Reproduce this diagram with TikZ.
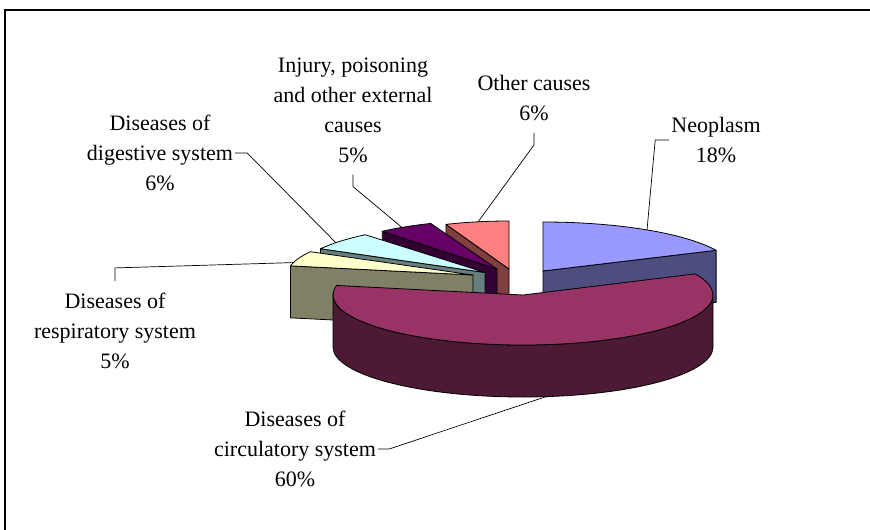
\documentclass[tikz,border=0pt]{standalone}
\usepackage{fontspec}
\setmainfont{Liberation Serif}
\usepackage{tikz}
\usetikzlibrary{calc}

\definecolor{neoTop}{HTML}{9999FF}
\definecolor{neoSide}{HTML}{4D4D80}
\definecolor{cirTop}{HTML}{993366}
\definecolor{cirSide}{HTML}{4D1A33}
\definecolor{resTop}{HTML}{FFFFCC}
\definecolor{resSide}{HTML}{808066}
\definecolor{digTop}{HTML}{CCFFFF}
\definecolor{digSide}{HTML}{668080}
\definecolor{injTop}{HTML}{660066}
\definecolor{injSide}{HTML}{330033}
\definecolor{othTop}{HTML}{FF8080}
\definecolor{othSide}{HTML}{804040}

\begin{document}
\begin{tikzpicture}[x=1pt,y=-1pt,
		face/.style={draw=black,line width=0.8pt,line join=round},
		lbl/.style={align=center,font=\fontsize{22}{30}\selectfont,inner xsep=2pt,inner ysep=12pt},
		leader/.style={draw=black,line width=0.7pt}
		]
			\useasboundingbox (0,0) rectangle (870,530);
			\draw[line width=1.2pt] (5,530) -- (5,10) -- (870,10);

			% slices, back to front
			\coordinate (othA) at (509,269);
			\filldraw[face,fill=othSide] (othA) -- ++({171*sin(338.4)},{-48*cos(338.4)}) -- ++(0,52) -- ($(othA)+(0,52)$) -- cycle;
			\filldraw[face,fill=othTop] (othA) -- ++({171*sin(338.4)},{-48*cos(338.4)}) arc[start angle=248.4,end angle=270,x radius=171,y radius=48] -- cycle;

			\coordinate (injA) at (497,269);
			\filldraw[face,fill=injSide] (injA) -- ++({180*sin(320.4)},{-49*cos(320.4)}) -- ++(0,52) -- ($(injA)+(0,52)$) -- cycle;
			\filldraw[face,fill=injTop] (injA) -- ++({180*sin(320.4)},{-49*cos(320.4)}) arc[start angle=230.4,end angle=248.4,x radius=180,y radius=49] -- cycle;

			\coordinate (digA) at (485,272.5);
			\filldraw[face,fill=digSide] (digA) -- ++({188*sin(299)},{-49*cos(299)}) -- ++(0,52) -- ($(digA)+(0,52)$) -- cycle;
			\filldraw[face,fill=digTop] (digA) -- ++({188*sin(299)},{-49*cos(299)}) arc[start angle=209,end angle=230.4,x radius=188,y radius=49] -- cycle;

			\coordinate (resA) at (473,275);
			\filldraw[face,fill=resSide] (resA) -- ++({186*sin(281)},{-48*cos(281)}) -- ++(0,52) -- ($(resA)+(0,52)$) -- cycle;
			\filldraw[face,fill=resTop] (resA) -- ++({186*sin(281)},{-48*cos(281)}) arc[start angle=191,end angle=209,x radius=186,y radius=48] -- cycle;

			\coordinate (neoA) at (543,271);
			\filldraw[face,fill=neoSide] (neoA) -- ++({191*sin(65)},{-49*cos(65)}) -- ++(0,52) -- ($(neoA)+(0,52)$) -- cycle;
			\filldraw[face,fill=neoTop] (neoA) -- ++(0,-49) arc[start angle=-90,end angle=-25,x radius=191,y radius=49] -- cycle;

			\coordinate (cirA) at (523,295);
			\filldraw[face,fill=cirSide] ($(cirA)+(190,0)$) arc[start angle=0,end angle=180,x radius=190,y radius=50] -- ++(0,52) arc[start angle=180,end angle=0,x radius=190,y radius=50] -- cycle;
			\filldraw[face,fill=cirTop] (cirA) -- ++({190*sin(65)},{-50*cos(65)}) arc[start angle=-25,end angle=191,x radius=190,y radius=50] -- cycle;

			% leader ends
			\coordinate (neoTip) at ($(neoA)+({191*sin(33)},{-49*cos(33)})$);
			\coordinate (othTip) at ($(othA)+({171*sin(349.6)},{-48*cos(349.6)})$);
			\coordinate (injTip) at ($(injA)+({180*sin(328.1)},{-49*cos(328.1)})$);
			\coordinate (digTip) at ($(digA)+({188*sin(307.5)},{-49*cos(307.5)})$);
			\coordinate (resTip) at ($(resA)+({186*sin(285)},{-48*cos(285)})$);
			\coordinate (cirTip) at ($(cirA)+({190*sin(173)},{52-50*cos(173)})$);

			\node[lbl] (neoLbl) at (716,140) {Neoplasm\\18\%};
			\node[lbl] (othLbl) at (534,98) {Other causes\\6\%};
			\node[lbl] (injLbl) at (353,110) {Injury, poisoning\\and other external\\causes\\5\%};
			\node[lbl] (digLbl) at (160,153) {Diseases of\\digestive system\\6\%};
			\node[lbl] (resLbl) at (115,331) {Diseases of\\respiratory system\\5\%};
			\node[lbl] (cirLbl) at (295,449) {Diseases of\\circulatory system\\60\%};

			\draw[leader] (neoLbl.west) -- ++(-14,0) -- (neoTip);
			\draw[leader] (othLbl.south) -- ++(0,12) -- (othTip);
			\draw[leader] (injLbl.south) -- ++(0,12) -- (injTip);
			\draw[leader] (digLbl.east) -- ++(12,0) -- (digTip);
			\draw[leader] (resLbl.north) -- ++(0,-13) -- (resTip);
			\draw[leader] (cirLbl.east) -- ++(11,0) -- (cirTip);
		\end{tikzpicture}
\end{document}
